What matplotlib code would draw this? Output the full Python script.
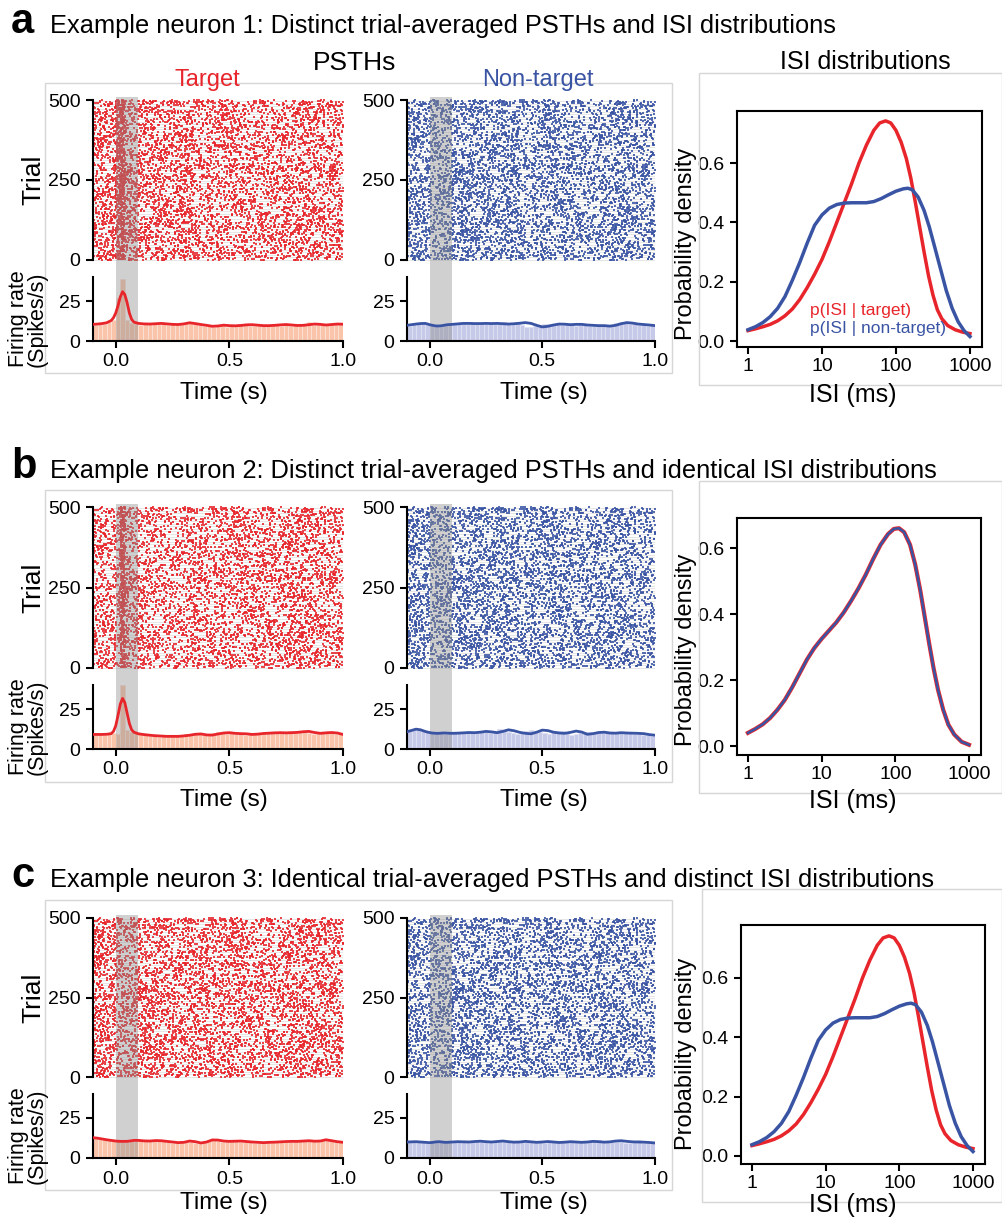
import numpy as np
import matplotlib
matplotlib.use('Agg')
import matplotlib.pyplot as plt
from matplotlib.patches import Rectangle

W, H = 1003, 1218
RED = '#e8252b'
BLUE = '#3a54a4'
RED_BAR = '#f9c4aa'
BLUE_BAR = '#c6c9e8'
SHADE = '#8f8f8f'

N_TRIALS = 500
BIN_W = 0.02
T_START, T_END = -0.1, 1.0

# time points of the smoothed PSTH curves (s)
LINE_T = [-0.1, -0.08, -0.06, -0.04, -0.02, -0.01, 0.0, 0.01, 0.02, 0.03,
          0.04, 0.05, 0.06, 0.07, 0.08,
          0.1, 0.125, 0.15, 0.175, 0.2, 0.225, 0.25, 0.275, 0.3, 0.325,
          0.35, 0.375, 0.4, 0.425, 0.45, 0.475, 0.5, 0.525, 0.55, 0.575,
          0.6, 0.625, 0.65, 0.675, 0.7, 0.725, 0.75, 0.775, 0.8, 0.825,
          0.85, 0.875, 0.9, 0.925, 0.95, 0.975, 1.0]

# smoothed firing rates (spikes/s)
A_TGT_LINE = [10.4, 10.6, 10.9, 11.4, 12.8, 14.5, 17.5, 22.0, 27.5, 30.8,
              29.0, 24.0, 17.5, 13.5, 11.8,
              11.0, 10.7, 10.6, 10.8, 11.0, 10.7, 10.4, 10.3, 10.7, 11.4,
              10.9, 10.3, 9.8, 9.2, 9.4, 9.9, 9.6, 9.5, 9.7, 10.1,
              10.2, 9.9, 9.6, 9.6, 9.8, 10.1, 10.3, 10.0, 9.7, 9.8,
              10.2, 10.6, 10.4, 10.0, 10.3, 10.6, 10.5]
A_NON_LINE = [9.8, 10.2, 10.6, 10.9, 11.0, 10.7, 10.2, 9.9, 9.6, 9.4,
              9.4, 9.5, 9.7, 10.0, 10.2,
              10.4, 10.7, 11.0, 11.0, 10.9, 10.9, 11.0, 10.9, 11.0, 10.8,
              10.6, 10.8, 11.1, 11.5, 11.0, 9.8, 8.8, 9.2, 10.0, 10.6,
              10.5, 10.2, 10.4, 10.4, 10.0, 9.8, 9.6, 9.6, 9.3, 9.8,
              10.8, 11.5, 11.2, 10.6, 10.3, 10.0, 9.6]
B_TGT_LINE = [9.1, 9.1, 9.1, 9.2, 9.6, 11.0, 14.5, 21.0, 28.0, 31.6,
              29.0, 22.5, 16.0, 12.0, 10.5,
              9.5, 9.0, 8.6, 8.3, 8.1, 7.9, 7.9, 7.9, 8.2, 8.6,
              9.2, 9.4, 8.8, 8.7, 9.4, 10.0, 10.2, 9.8, 9.6, 9.5,
              9.1, 9.3, 9.7, 9.9, 10.1, 10.2, 10.1, 10.2, 10.4, 10.8,
              11.0, 10.3, 9.8, 10.1, 10.3, 10.0, 9.1]
B_NON_LINE = [10.8, 11.6, 12.4, 12.0, 11.0, 10.6, 10.3, 10.0, 9.9, 9.8,
              9.8, 9.9, 10.0, 10.0, 9.9,
              9.8, 9.9, 10.1, 10.3, 10.2, 10.5, 11.0, 10.7, 10.2, 11.0,
              12.0, 11.4, 10.4, 9.8, 9.5, 10.5, 11.8, 11.5, 10.5, 10.0,
              9.8, 10.4, 11.2, 10.6, 9.2, 9.6, 10.3, 10.5, 10.0, 9.9,
              10.2, 10.0, 9.9, 9.8, 9.6, 9.0, 8.6]
C_TGT_LINE = [12.7, 12.4, 11.9, 11.4, 11.0, 10.8, 10.6, 10.5, 10.4, 10.4,
              10.4, 10.4, 10.6, 10.8, 11.0,
              11.0, 10.7, 10.6, 10.9, 10.8, 10.4, 10.0, 9.6, 9.8, 10.6,
              10.2, 9.4, 10.0, 11.3, 11.2, 10.6, 10.4, 10.5, 10.6, 10.3,
              10.0, 9.8, 9.6, 9.8, 9.9, 10.1, 10.3, 10.4, 10.4, 10.6,
              10.8, 10.5, 10.6, 11.4, 10.8, 10.2, 9.8]
C_NON_LINE = [10.0, 10.1, 10.2, 10.0, 9.8, 9.7, 9.6, 9.7, 9.9, 10.1,
              10.2, 10.1, 9.9, 9.8, 9.8,
              10.0, 10.2, 10.1, 10.0, 10.3, 10.5, 10.2, 10.0, 10.3, 10.6,
              10.2, 9.9, 10.0, 10.4, 10.1, 9.8, 10.0, 10.3, 10.0, 9.7,
              9.9, 10.2, 10.0, 9.8, 10.0, 10.4, 10.2, 9.9, 10.1, 10.6,
              10.8, 10.4, 10.1, 10.0, 9.9, 9.7, 9.4]

# histogram bars, 20 ms bins from -0.1 s to 1.0 s (spikes/s)
A_TGT_BARS = [10.0, 11.2, 10.4, 11.8, 13.0, 27.0, 39.0, 13.0, 11.0, 11.5, 10.2,
              11.0, 10.5, 11.3, 10.6, 11.2, 10.0, 10.8, 10.6, 11.4, 11.0, 11.8,
              10.5, 10.0, 9.5, 9.8, 8.9, 9.6, 10.2, 9.0, 9.8, 9.4, 10.5,
              10.0, 9.6, 9.2, 10.0, 9.5, 10.3, 10.8, 10.0, 9.6, 10.2, 9.4,
              9.9, 10.5, 10.8, 11.6, 10.2, 9.8, 10.6, 9.9, 10.8, 10.4, 10.6]
A_NON_BARS = [9.6, 10.4, 10.8, 11.2, 10.6, 10.0, 9.4, 9.6, 10.2, 10.4, 11.0,
              10.6, 11.2, 10.8, 11.4, 10.6, 11.0, 10.8, 11.2, 10.4, 10.9, 11.6,
              10.8, 11.4, 11.8, 10.2, 9.0, 8.6, 9.4, 10.2, 10.8, 10.4, 10.0,
              10.6, 10.2, 10.6, 10.4, 9.6, 10.0, 9.8, 9.4, 9.6, 9.2, 9.4,
              9.2, 10.2, 11.0, 11.8, 11.0, 10.4, 10.6, 10.0, 10.2, 9.6, 9.8]
B_TGT_BARS = [9.0, 9.2, 9.0, 9.4, 9.8, 9.2, 40.0, 11.6, 10.4, 9.8, 9.2,
              8.8, 8.4, 8.6, 7.8, 8.2, 7.6, 8.0, 8.4, 8.8, 9.6, 9.0,
              9.8, 9.2, 8.6, 9.0, 9.8, 10.4, 10.2, 9.6, 9.8, 9.2, 9.4,
              9.0, 9.6, 9.8, 10.2, 10.0, 10.4, 10.0, 10.2, 10.6, 10.8, 11.2,
              10.6, 11.4, 10.8, 10.2, 9.6, 10.0, 10.4, 10.4, 10.0, 9.6, 9.2]
B_NON_BARS = [11.0, 12.0, 12.4, 11.6, 10.6, 10.2, 9.8, 10.0, 9.6, 10.0, 9.8,
              10.0, 10.2, 10.4, 10.2, 10.6, 11.2, 10.6, 10.0, 11.4, 12.2, 11.6,
              10.6, 9.8, 9.4, 9.8, 11.4, 12.0, 11.0, 10.4, 9.8, 9.6, 10.4,
              11.0, 11.4, 10.2, 9.0, 9.4, 10.2, 10.6, 10.6, 10.0, 9.8, 10.0,
              10.2, 10.4, 10.0, 9.8, 10.0, 9.8, 9.6, 9.4, 9.0, 8.8, 8.4]
C_TGT_BARS = [12.8, 12.2, 11.8, 11.2, 11.0, 10.6, 10.4, 10.2, 10.6, 10.8, 11.2,
              10.8, 10.4, 10.8, 11.0, 10.6, 10.2, 9.6, 9.8, 10.4, 10.8, 10.0,
              9.4, 9.6, 10.2, 11.4, 11.6, 10.8, 10.2, 10.6, 10.8, 10.4, 10.2,
              10.0, 9.8, 9.4, 9.6, 10.0, 9.8, 10.2, 10.0, 10.4, 10.6, 10.2,
              10.4, 10.8, 11.0, 10.6, 10.4, 10.8, 11.4, 11.8, 10.6, 10.0, 9.8]
C_NON_BARS = [10.0, 10.2, 10.0, 9.8, 9.6, 9.8, 10.0, 10.4, 10.0, 9.8, 10.0,
              10.2, 10.0, 10.2, 10.6, 10.4, 10.0, 10.2, 10.4, 10.8, 10.2, 9.8,
              10.0, 10.4, 10.2, 9.8, 9.8, 10.2, 10.4, 10.0, 9.6, 9.8, 10.2,
              10.0, 9.8, 10.0, 10.4, 10.2, 9.8, 10.0, 10.2, 10.8, 11.0, 10.6,
              10.2, 10.0, 10.0, 9.8, 9.6, 9.4, 9.8, 11.0, 9.6, 9.4, 9.2]

# ISI densities, x as log10(ISI in ms)
ISI_LOG_TGT = [0.0, 0.1, 0.2, 0.3, 0.4, 0.5, 0.6, 0.7, 0.8, 0.9, 1.0, 1.1,
               1.2, 1.3, 1.4, 1.5, 1.6, 1.7, 1.78, 1.86, 1.93, 2.0, 2.07,
               2.14, 2.2, 2.26, 2.32, 2.38, 2.44, 2.5, 2.56, 2.62, 2.7, 2.8,
               2.9, 3.0]
ISI_TGT = [0.035, 0.041, 0.048, 0.056, 0.068, 0.085, 0.108, 0.14, 0.18,
           0.225, 0.275, 0.335, 0.4, 0.465, 0.53, 0.6, 0.66, 0.71, 0.735,
           0.742, 0.735, 0.71, 0.67, 0.615, 0.55, 0.47, 0.385, 0.3, 0.22,
           0.155, 0.105, 0.075, 0.052, 0.038, 0.03, 0.025]
ISI_LOG_NON = [0.0, 0.1, 0.2, 0.3, 0.4, 0.5, 0.6, 0.7, 0.8, 0.9, 1.0, 1.1,
               1.2, 1.3, 1.4, 1.5, 1.6, 1.7, 1.8, 1.9, 2.0, 2.1, 2.16, 2.22,
               2.3, 2.38, 2.45, 2.52, 2.6, 2.68, 2.76, 2.84, 2.92, 3.0]
ISI_NON = [0.038, 0.048, 0.062, 0.082, 0.11, 0.15, 0.205, 0.265, 0.33, 0.39,
           0.425, 0.448, 0.46, 0.465, 0.466, 0.466, 0.466, 0.47, 0.48, 0.493,
           0.505, 0.513, 0.515, 0.51, 0.485, 0.44, 0.385, 0.32, 0.245, 0.17,
           0.11, 0.065, 0.035, 0.015]
ISI_LOG_SAME = [0.0, 0.1, 0.2, 0.3, 0.4, 0.5, 0.6, 0.7, 0.8, 0.9, 1.0, 1.1,
                1.2, 1.3, 1.4, 1.5, 1.6, 1.7, 1.8, 1.9, 1.98, 2.05, 2.12,
                2.2, 2.27, 2.34, 2.4, 2.46, 2.52, 2.58, 2.65, 2.72, 2.8, 2.9,
                3.0]
ISI_SAME = [0.04, 0.052, 0.066, 0.085, 0.11, 0.14, 0.178, 0.22, 0.262, 0.297,
            0.325, 0.35, 0.375, 0.405, 0.44, 0.478, 0.52, 0.567, 0.61, 0.642,
            0.658, 0.66, 0.648, 0.61, 0.55, 0.47, 0.39, 0.31, 0.235, 0.17,
            0.11, 0.065, 0.035, 0.013, 0.004]

TITLES = ['Example neuron 1: Distinct trial-averaged PSTHs and ISI distributions',
          'Example neuron 2: Distinct trial-averaged PSTHs and identical ISI distributions',
          'Example neuron 3: Identical trial-averaged PSTHs and distinct ISI distributions']

plt.rcParams['font.family'] = ['Liberation Sans', 'DejaVu Sans']
plt.rcParams['axes.linewidth'] = 1.5

fig = plt.figure(figsize=(W / 100., H / 100.), dpi=100)
edges = np.linspace(T_START, T_END, int(round((T_END - T_START) / BIN_W)) + 1)


def px_rect(left, top, right, bottom):
    return [left / W, 1 - bottom / H, (right - left) / W, (bottom - top) / H]


def ftext(x, y, s, **kw):
    fig.text(x / W, 1 - y / H, s, **kw)


def frame(left, top, right, bottom):
    fig.patches.append(Rectangle((left / W, 1 - bottom / H), (right - left) / W,
                                 (bottom - top) / H, transform=fig.transFigure,
                                 fill=False, ec='#d6d6d6', lw=1.0))


def raster_spikes(rates):
    # the single spikes can't be read off the picture: lay them out with a
    # quadratic Weyl sequence so that their density follows the PSTH bars
    counts = np.asarray(rates) * BIN_W
    cdf = np.concatenate([[0.], np.cumsum(counts)]) / counts.sum()
    n = int(round(counts.sum() * N_TRIALS))
    i = np.arange(1, n + 1, dtype=float)
    u = (i * i * np.sqrt(2.) + i * 0.6180339887) % 1.0
    v = (i * i * np.sqrt(3.)) % 1.0
    return np.interp(u, cdf, edges), np.floor(v * N_TRIALS)


def tick_style(ax):
    ax.tick_params(labelsize=14, width=1.5, length=5, pad=4)


def draw_raster(ax, rates, color):
    t, tr = raster_spikes(rates)
    ax.hlines(np.arange(0, N_TRIALS + 1, 8), T_START, T_END, color='#e2e2e2',
              lw=0.6, zorder=0)
    ax.scatter(t, tr, s=0.8, marker='s', c=color, linewidths=0, alpha=0.85,
               zorder=1)
    ax.axvspan(0, 0.1, color=SHADE, alpha=0.42, lw=0, zorder=3)
    ax.set_xlim(T_START, T_END)
    ax.set_ylim(-10, 510)
    for s in ['top', 'right', 'bottom']:
        ax.spines[s].set_visible(False)
    ax.spines['left'].set_bounds(0, N_TRIALS)
    ax.set_yticks([0, 250, 500])
    ax.set_xticks([])
    tick_style(ax)


def draw_psth(ax, bars, line, bar_color, line_color, ymax):
    ax.bar(edges[:-1], bars, width=BIN_W, align='edge', color=bar_color,
           edgecolor='#fbe2d6' if line_color == RED else '#dfe0f2',
           linewidth=0.6, zorder=1)
    ax.axvspan(0, 0.1, color=SHADE, alpha=0.42, lw=0, zorder=2)
    ax.plot(LINE_T, line, color=line_color, lw=2, zorder=3)
    ax.set_xlim(T_START, T_END)
    ax.set_ylim(0, ymax)
    for s in ['top', 'right']:
        ax.spines[s].set_visible(False)
    ax.spines['left'].set_bounds(0, 40)
    ax.set_yticks([0, 25])
    ax.set_xticks([0, 0.5, 1.0])
    ax.set_xticklabels(['0.0', '0.5', '1.0'])
    tick_style(ax)


def draw_isi(box, ylim, curves):
    ax = fig.add_axes(px_rect(*box))
    for xs, ys, color, lw in curves:
        ax.plot(10 ** np.asarray(xs), ys, color=color, lw=lw,
                solid_joinstyle='round')
    ax.set_xscale('log')
    ax.set_xlim(0.71, 1455)
    ax.set_ylim(*ylim)
    ax.set_xticks([1, 10, 100, 1000])
    ax.set_xticklabels(['1', '10', '100', '1000'])
    ax.minorticks_off()
    ax.set_yticks([0.0, 0.2, 0.4, 0.6])
    ax.set_yticklabels(['0.0', '0.2', '0.4', '0.6'])
    tick_style(ax)
    ax.tick_params(axis='x', pad=3)
    return ax


panels = [
    dict(letter='a', ty=33, r500=100, r0=260, p0=341,
         tgt=(A_TGT_BARS, A_TGT_LINE), non=(A_NON_BARS, A_NON_LINE),
         fr=(45, 83, 672, 373), ifr=(699, 73, 1002, 385),
         isi_box=(737, 111, 982, 347), isi_ylim=(-0.0202, 0.7753),
         isi=[(ISI_LOG_TGT, ISI_TGT, RED, 2.5), (ISI_LOG_NON, ISI_NON, BLUE, 2.5)],
         xlab_y=393, isi_lab_y=395, pd_y=244),
    dict(letter='b', ty=478, r500=507, r0=668, p0=749,
         tgt=(B_TGT_BARS, B_TGT_LINE), non=(B_NON_BARS, B_NON_LINE),
         fr=(45, 490, 672, 782), ifr=(699, 481, 1002, 793),
         isi_box=(737, 518, 981, 755), isi_ylim=(-0.027, 0.691),
         isi=[(ISI_LOG_SAME, ISI_SAME, RED, 3.0), (ISI_LOG_SAME, ISI_SAME, BLUE, 1.8)],
         xlab_y=800, isi_lab_y=801, pd_y=650),
    dict(letter='c', ty=887, r500=918, r0=1077, p0=1158,
         tgt=(C_TGT_BARS, C_TGT_LINE), non=(C_NON_BARS, C_NON_LINE),
         fr=(45, 900, 672, 1190), ifr=(702, 889, 1002, 1202),
         isi_box=(741, 925, 985, 1164), isi_ylim=(-0.027, 0.7786),
         isi=[(ISI_LOG_TGT, ISI_TGT, RED, 2.5), (ISI_LOG_NON, ISI_NON, BLUE, 2.5)],
         xlab_y=1203, isi_lab_y=1205, pd_y=1054),
]

for i, p in enumerate(panels):
    frame(*p['fr'])
    frame(*p['ifr'])
    ftext(11, p['ty'], p['letter'], fontsize=30, fontweight='bold', va='baseline')
    ftext(50, p['ty'], TITLES[i], fontsize=18.3, va='baseline')

    scale = (p['r0'] - p['r500']) / 500.
    r_top = p['r500'] - 10 * scale
    r_bot = p['r0'] + 10 * scale
    ymax = (p['p0'] - r_bot) / 1.6
    for (left, right), (bars, line), color, bar_color, xc in [
            ((93, 343), p['tgt'], RED, RED_BAR, 224),
            ((407, 655), p['non'], BLUE, BLUE_BAR, 544)]:
        ax_r = fig.add_axes(px_rect(left, r_top, right, r_bot))
        draw_raster(ax_r, bars, color)
        ax_p = fig.add_axes(px_rect(left, r_bot, right, p['p0']))
        draw_psth(ax_p, bars, line, bar_color, color, ymax)
        ftext(xc, p['xlab_y'], 'Time (s)', fontsize=17.5, ha='center', va='center')

    ftext(33, (p['r500'] + p['r0']) / 2., 'Trial', fontsize=19, rotation=90,
          ha='center', va='center')
    ftext(28, p['p0'] - 22, 'Firing rate\n(Spikes/s)', fontsize=15.5,
          rotation=90, ha='center', va='center', multialignment='center',
          linespacing=0.85)

    draw_isi(p['isi_box'], p['isi_ylim'], p['isi'])
    ftext(686, p['pd_y'], 'Probability density', fontsize=17, rotation=90,
          ha='center', va='center')
    ftext(853, p['isi_lab_y'], 'ISI (ms)', fontsize=18, ha='center', va='center')

ftext(355, 63, 'PSTHs', fontsize=19, ha='center', va='center')
ftext(207, 80, 'Target', fontsize=17, color=RED, ha='center', va='center')
ftext(538, 80, 'Non-target', fontsize=17, color=BLUE, ha='center', va='center')
ftext(865, 62, 'ISI distributions', fontsize=18, ha='center', va='center')
ftext(810, 310, 'p(ISI | target)', fontsize=12.5, color=RED, va='center')
ftext(810, 328, 'p(ISI | non-target)', fontsize=12.5, color=BLUE, va='center')

fig.savefig('out.png', dpi=100)
